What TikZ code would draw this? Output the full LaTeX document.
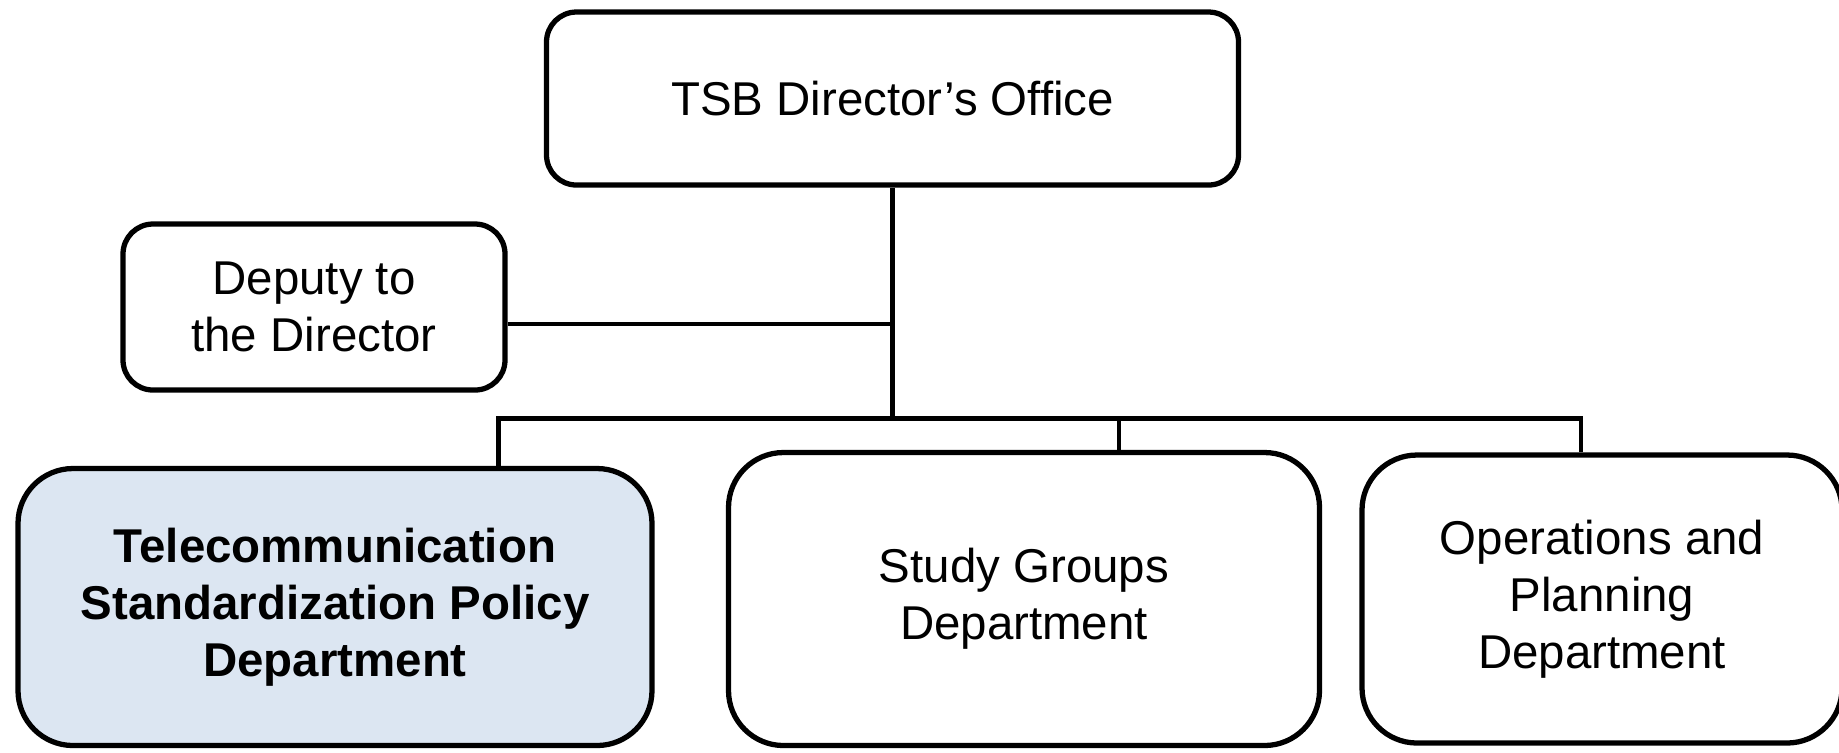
\documentclass[tikz,border=0pt]{standalone}
\usepackage{fontspec}
\setmainfont{Liberation Sans}
\usepackage{tikz}
\usetikzlibrary{positioning, calc}
\definecolor{bleuclair}{HTML}{DCE6F2}

\begin{document}
\begin{tikzpicture}[
		office/.style={draw, line width=1.5pt, rounded corners=0.3cm, align=center,
			font=\fontsize{13.5}{16.2}\selectfont, inner sep=2pt},
		dept/.style={office, rounded corners=0.55cm},
		every path/.style={line width=1.3pt}
		]
		\useasboundingbox (0,0) rectangle (18.39,-7.52);
		
		% Les boîtes
		\node[office, minimum width=6.92cm, minimum height=1.73cm] (dir) at (8.925,-0.985) {TSB Director’s Office};
		\node[office, minimum width=3.82cm, minimum height=1.66cm] (dep) at (3.14,-3.07) {Deputy to\\the Director};
		\node[dept, fill=bleuclair, minimum width=6.34cm, minimum height=2.77cm, font=\fontsize{13.5}{16.3}\selectfont\bfseries] (tsp) at (3.35,-6.07) {Telecommunication\\Standardization Policy\\Department};
		\node[dept, minimum width=5.91cm, minimum height=2.93cm] (sg) at (10.24,-5.99) {Study Groups\\Department};
		\node[dept, minimum width=4.80cm, minimum height=2.88cm] (op) at (16.02,-5.99) {Operations and\\Planning\\Department};
		
		% Les points de jonction
		\coordinate (bus) at (8.925,-4.185);
		\coordinate (depj) at (8.925,-3.24);
		\coordinate (bl) at (4.985,-4.185);
		\coordinate (bm) at (11.19,-4.185);
		\coordinate (br) at (15.81,-4.185);
		
		% Les liaisons
		\draw (dir.south) -- (bus);
		\draw (depj -| dep.east) -- (depj);
		\draw (tsp.north -| bl) -- (bl) -- (br) -- (op.north -| br);
		\draw (bm) -- (sg.north -| bm);
	\end{tikzpicture}
\end{document}
